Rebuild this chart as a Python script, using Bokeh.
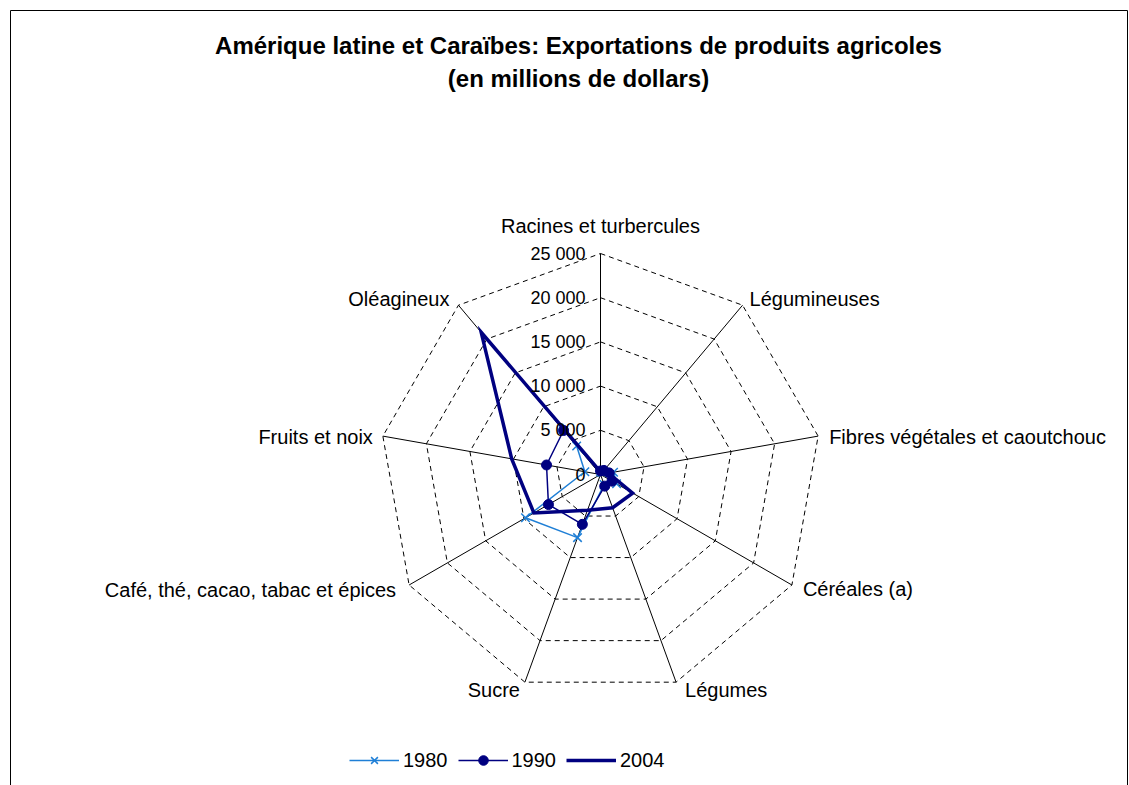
import math
from bokeh.plotting import figure
from bokeh.models import Range1d, Legend, LegendItem
from bokeh.core.properties import value
from bokeh.embed import file_html
from bokeh.resources import INLINE

# ---------------- data ----------------
categories = ["Racines et turbercules", "Légumineuses", "Fibres végétales et caoutchouc",
              "Céréales (a)", "Légumes", "Sucre", "Café, thé, cacao, tabac et épices",
              "Fruits et noix", "Oléagineux"]
v1980 = [300, 300, 1500, 2100, 1200, 7600, 9800, 1800, 4200]
v1990 = [400, 600, 1000, 1500, 1400, 6000, 6800, 6200, 6500]
v2004 = [300, 400, 900, 4200, 4000, 4300, 8700, 10200, 21000]
tick_values = [0, 5000, 10000, 15000, 20000, 25000]
tick_labels = ["0", "5 000", "10 000", "15 000", "20 000", "25 000"]
title_lines = ["Amérique latine et Caraïbes: Exportations de produits agricoles",
               "(en millions de dollars)"]

# ---------------- geometry ----------------
OX, OY = 0, 0              # page position of the figure
W, H = 1129, 785
CX, CY = 600, 474          # page px of centre
RPX = 221                  # page px for 25000
RMAX = 25000
k = RMAX / RPX             # data units per pixel


def X(px):
    return (px - CX) * k


def Y(py):
    return (CY - py) * k


n = len(categories)
angles = [math.radians(90 - 40 * i) for i in range(n)]

p = figure(width=W, height=H, output_backend="svg", toolbar_location=None,
           x_range=Range1d(X(OX), X(OX + W)), y_range=Range1d(Y(OY + H), Y(OY)),
           x_axis_type=None, y_axis_type=None, min_border=0)
p.grid.visible = False
p.outline_line_color = None
p.background_fill_color = "white"
p.border_fill_color = "white"

FONT = "Liberation Sans"

# chart border (left, top, right)
p.multi_line(xs=[[X(10), X(10)], [X(10), X(1127)], [X(1127), X(1127)]],
             ys=[[Y(10), Y(820)], [Y(10), Y(10)], [Y(10), Y(820)]],
             line_color="black", line_width=1)

# rings
for tv in tick_values[1:]:
    xs = [tv * math.cos(a) for a in angles] + [tv * math.cos(angles[0])]
    ys = [tv * math.sin(a) for a in angles] + [tv * math.sin(angles[0])]
    p.line(xs, ys, line_color="black", line_width=1, line_dash="5 4")

# spokes
p.segment(x0=[0] * n, y0=[0] * n,
          x1=[RMAX * math.cos(a) for a in angles],
          y1=[RMAX * math.sin(a) for a in angles],
          line_color="black", line_width=1)


def pts(vals):
    xs = [v * math.cos(a) for v, a in zip(vals, angles)]
    ys = [v * math.sin(a) for v, a in zip(vals, angles)]
    return xs + [xs[0]], ys + [ys[0]]


c80 = "#1F7FD6"
c90 = "#000080"
c04 = "#000080"

x80, y80 = pts(v1980)
l80 = p.line(x80, y80, line_color=c80, line_width=1.5)
m80 = p.scatter(x80[:-1], y80[:-1], marker="x", size=12, line_color=c80, line_width=1.5)

x90, y90 = pts(v1990)
l90 = p.line(x90, y90, line_color=c90, line_width=1.5)
m90 = p.scatter(x90[:-1], y90[:-1], marker="circle", size=10, fill_color=c90, line_color=c90)

x04, y04 = pts(v2004)
l04 = p.line(x04, y04, line_color=c04, line_width=3.5, line_join="miter")

# category labels
offsets = [(0, -28, "center"), (7, -6, "left"), (11, 1, "left"), (11, 4, "left"),
           (9, 8, "left"), (-5, 8, "right"), (-13, 5, "right"), (-10, 1, "right"),
           (-9, -6, "right")]
for cat, a, (dx, dy, al) in zip(categories, angles, offsets):
    p.text(x=[RMAX * math.cos(a)], y=[RMAX * math.sin(a)], text=[cat],
           x_offset=dx, y_offset=dy, text_align=al, text_baseline="middle",
           text_font=value(FONT), text_font_size="20px", text_color="black")

# value tick labels on the top axis
p.text(x=[0] * len(tick_values), y=tick_values, text=tick_labels,
       x_offset=-15, y_offset=0, text_align="right", text_baseline="middle",
       text_font=value(FONT), text_font_size="18px", text_color="black")

# title
p.text(x=[X(578), X(578)], y=[Y(45), Y(78)], text=title_lines,
       text_align="center", text_baseline="middle",
       text_font=value(FONT), text_font_size="24px", text_font_style="bold",
       text_color="black")

legend = Legend(items=[LegendItem(label="1980", renderers=[l80, m80]),
                       LegendItem(label="1990", renderers=[l90, m90]),
                       LegendItem(label="2004", renderers=[l04])],
                orientation="horizontal", location=(349, 13),
                glyph_width=50, glyph_height=24, label_standoff=4,
                label_text_font=FONT, label_text_font_size="20px",
                label_text_color="black",
                label_height=24, spacing=10, padding=0, margin=0,
                border_line_color=None, background_fill_alpha=0)
p.add_layout(legend)

open("out.html", "w").write(file_html(p, INLINE))
